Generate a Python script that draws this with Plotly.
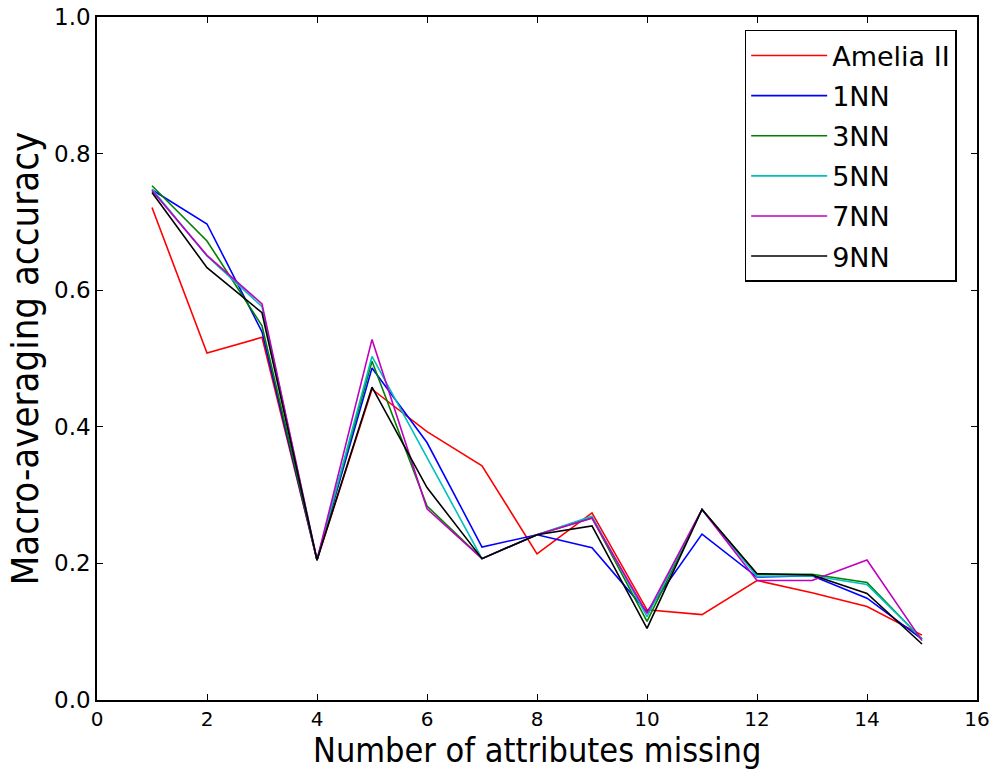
import plotly.graph_objects as go

# Number of missing attributes (x) and accuracy per imputation method
attrs_missing = list(range(1, 16))

amelia = [0.721, 0.508, 0.531, 0.205, 0.455, 0.393, 0.343, 0.214, 0.274, 0.132, 0.125, 0.175, 0.157, 0.137, 0.095]
nn1 = [0.747, 0.697, 0.539, 0.205, 0.486, 0.377, 0.224, 0.242, 0.223, 0.129, 0.243, 0.180, 0.182, 0.149, 0.089]
nn3 = [0.753, 0.672, 0.548, 0.205, 0.496, 0.284, 0.207, 0.242, 0.267, 0.115, 0.279, 0.184, 0.184, 0.172, 0.089]
nn5 = [0.748, 0.650, 0.576, 0.205, 0.503, 0.356, 0.207, 0.242, 0.269, 0.122, 0.279, 0.181, 0.182, 0.169, 0.090]
nn7 = [0.746, 0.651, 0.580, 0.205, 0.528, 0.280, 0.207, 0.242, 0.266, 0.127, 0.279, 0.175, 0.175, 0.205, 0.087]
nn9 = [0.743, 0.633, 0.567, 0.205, 0.458, 0.311, 0.207, 0.242, 0.255, 0.105, 0.279, 0.185, 0.183, 0.156, 0.082]

series_names = ["Amelia II", "1NN", "3NN", "5NN", "7NN", "9NN"]
series_values = [amelia, nn1, nn3, nn5, nn7, nn9]
series_colors = ["#ff0000", "#0000ff", "#008000", "#00bfbf", "#bf00bf", "#000000"]

x_ticks = [0, 2, 4, 6, 8, 10, 12, 14, 16]
y_ticks = [0.0, 0.2, 0.4, 0.6, 0.8, 1.0]

fig = go.Figure()
for name, vals, col in zip(series_names, series_values, series_colors):
    fig.add_trace(go.Scatter(
        x=attrs_missing, y=vals, mode="lines", name=name,
        legendgroup=name,
        line=dict(color=col, width=1.6),
    ))

axis_common = dict(
    showgrid=False, zeroline=False, showline=True, linecolor="black",
    linewidth=1.6, mirror="ticks", ticks="inside", ticklen=6,
    tickcolor="black", tickwidth=1, automargin=False,
)

fig.update_layout(
    width=995, height=770,
    margin=dict(l=97, r=18, t=17, b=70),
    paper_bgcolor="white", plot_bgcolor="white",
    font=dict(family="DejaVu Sans", color="black"),
    xaxis=dict(
        range=[0, 16], tickvals=x_ticks,
        ticktext=[str(v) for v in x_ticks],
        tickfont=dict(size=20, family="DejaVu Sans"),
        **axis_common,
    ),
    yaxis=dict(
        range=[0, 1], tickvals=y_ticks,
        ticktext=[f"{v:.1f}" for v in y_ticks],
        tickfont=dict(size=23, family="DejaVu Sans"),
        title=dict(text="Macro-averaging accuracy",
                   font=dict(size=38, family="DejaVu Sans Condensed"),
                   standoff=4),
        **axis_common,
    ),
    legend=dict(
        x=0.736, y=0.981, xanchor="left", yanchor="top",
        bordercolor="black", borderwidth=1.5, bgcolor="white",
        font=dict(size=27, family="DejaVu Sans"),
        tracegroupgap=2, itemwidth=76,
    ),
    showlegend=True,
)

# x-axis title placed as a paper-anchored label under the tick labels
fig.add_annotation(
    text="Number of attributes missing",
    xref="paper", yref="paper", x=0.5, y=0.0, yshift=-50,
    xanchor="center", yanchor="middle", showarrow=False,
    font=dict(size=34, family="DejaVu Sans Condensed", color="black"),
)

fig.write_html("out.html")
